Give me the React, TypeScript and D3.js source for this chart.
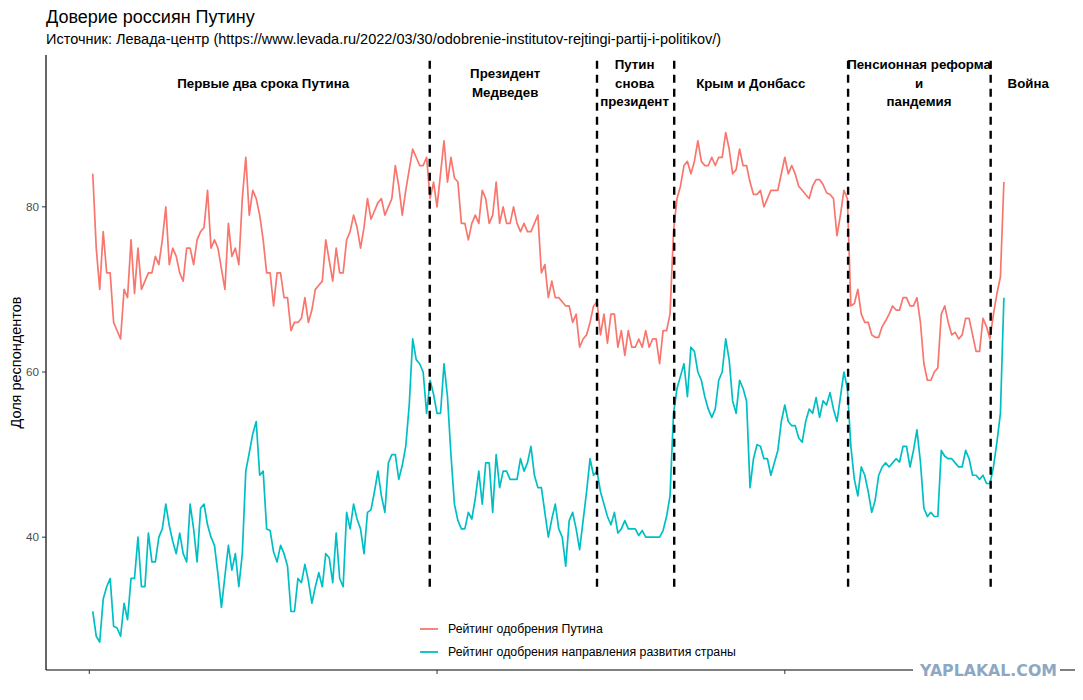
import * as d3 from 'd3';

// monthly observations, index 1..263
const putinRating = [
  84, 75, 70, 77, 72, 72, 66, 65, 64, 70, 69, 76, 69.5, 75, 70, 71, 72, 72, 74, 73,
  76, 80, 73, 75, 74, 72, 71, 75, 75, 73, 76, 77, 77.5, 82, 75, 76, 75, 72.5, 70, 78,
  74, 75, 73, 81, 86, 79, 82, 81, 79, 76, 72, 72, 68, 72, 72, 69, 69, 65, 66, 66,
  66.5, 69, 66, 67.5, 70, 70.5, 71, 76, 73.5, 71, 75, 72, 72, 76, 77, 79, 77.5, 75, 77.5, 81,
  78.5, 79.5, 80.5, 81, 79, 80, 81, 85, 82.5, 79, 82, 84.5, 87, 86, 85, 85, 86, 81, 83, 80,
  84, 88, 83, 86, 83.5, 83, 78, 78, 76, 78, 79, 78, 82, 81, 78, 79, 83, 78, 80, 78,
  78, 80, 78, 77, 78, 77, 77, 78, 79, 72, 73, 69, 71, 69, 69, 68.5, 68, 68, 66, 67,
  63, 64, 64.5, 66, 68, 68.5, 64.5, 67, 63.5, 67, 67, 63, 65, 62, 65, 63, 63, 64, 63, 65,
  63, 64, 64, 61, 65, 65, 67, 77, 81, 82.5, 85, 85.5, 84, 85.5, 88, 85.5, 85, 85, 86, 85,
  86, 86, 89, 87, 84, 84.5, 87, 85, 85, 83, 81.5, 81.5, 82, 80, 81, 82, 82, 82, 84, 86,
  84, 85, 84, 82.5, 82, 81.5, 81, 82.5, 83.3, 83.3, 82.7, 81.7, 81.5, 81, 76.5, 79, 82, 81, 68, 68.3,
  70, 67, 66, 66, 64.5, 64.2, 64.2, 65.5, 66.2, 67, 68, 67.5, 67.5, 69, 69, 68, 68, 69, 66, 61,
  59, 59, 60, 60.5, 67, 68, 66, 64.5, 64.8, 64, 64.5, 66.5, 66.5, 64.5, 62.5, 62.5, 66.5, 65.5, 64, 67,
  69.5, 71.5, 83,
];

const directionRating = [
  31, 28, 27.3, 32.5, 34, 35, 29.2, 29, 28, 32, 30, 35, 35, 40, 34, 34, 40.5, 37, 37, 40,
  41, 44, 41.4, 39.5, 38, 40.5, 38, 37, 44, 41, 37, 43.5, 44, 41.5, 40, 39, 35.5, 31.5, 35.3, 39,
  36, 38, 34, 38, 48, 50.2, 52.5, 54, 47.5, 48, 41, 40.8, 38.2, 37, 39, 38, 36.5, 31, 31, 35,
  34.5, 36.7, 34.7, 32, 34, 35.7, 34, 38, 37.5, 34.5, 40.5, 35, 34, 43, 41, 44, 42.2, 41, 38, 43,
  43.3, 45.5, 48, 45, 43, 49, 50, 50, 47, 48.7, 51, 56, 64, 61.5, 61, 60, 55, 59, 57.3, 55,
  55, 61, 57, 50, 44, 42, 41, 41, 43, 42.2, 44.7, 48, 44, 49, 49, 43, 50, 46, 48, 48,
  47, 47, 47, 49.5, 48, 49, 51, 47.5, 46, 46, 43, 40, 42.2, 44, 41, 40, 36.5, 42, 43, 41,
  38.5, 42, 45.5, 49.5, 47.5, 48, 45.5, 44, 42.5, 41.5, 43, 40.5, 41, 42, 41, 41, 41, 40.2, 40.8, 40,
  40, 40, 40, 40, 40.8, 42.5, 45, 55, 58, 59.5, 61, 57, 63, 62.5, 60, 59, 57, 55.5, 54.5, 55.5,
  59, 60, 64, 61.5, 56.5, 55, 59, 58, 56.5, 46, 49.5, 51.2, 51, 49.5, 49.5, 47.5, 49, 50.5, 54, 56,
  54, 53.5, 53.5, 52, 51.5, 54, 55.5, 55, 56.9, 54.5, 56.5, 56, 57.5, 55.5, 54, 57, 60, 58, 51, 47,
  45, 48.5, 47.5, 45.5, 43, 44.5, 47.5, 48.5, 49, 48.5, 49, 49.5, 49.1, 51, 51, 48.5, 50.5, 53, 49.1, 43.5,
  42.5, 43, 42.5, 42.5, 50.5, 49.8, 49.5, 49.5, 49, 48.5, 48.5, 50.5, 49.5, 47.5, 47.5, 47, 47.5, 46.5, 46.5, 48.5,
  51.5, 55, 69,
];

const seriesNames = ['Рейтинг одобрения Путина', 'Рейтинг одобрения направления развития страны'];
const seriesColors = ['#F8766D', '#00BFC4'];

// observation index of each period boundary
const eventIndex = [97.9, 146, 168.2, 218.2, 259.2];

const periodLabels = [
  'Первые два срока Путина',
  'Президент\nМедведев',
  'Путин\nснова\nпрезидент',
  'Крым и Донбасс',
  'Пенсионная реформа\nи\nпандемия',
  'Война',
];
const periodIndex = [50, 119.6, 156.8, 190.2, 238.6, 270];
const labelLevel = 95;
const eventFloor = 34;

const yTicks = [40, 60, 80];
const xTicks = [0, 100, 200];

const W = 1083;
const H = 700;
const margin = { left: 46, right: 8, top: 55, bottom: 30 };
const FONT = '"Liberation Sans", Arial, sans-serif';

function expand(lo: number, hi: number): [number, number] {
  const d = (hi - lo) * 0.05;
  return [lo - d, hi + d];
}

export default function App() {
  const allY = [...putinRating, ...directionRating, labelLevel];
  const x = d3
    .scaleLinear()
    .domain(expand(1, d3.max(periodIndex) as number))
    .range([margin.left, W - margin.right]);
  const y = d3
    .scaleLinear()
    .domain(expand(d3.min(allY) as number, d3.max(allY) as number))
    .range([H - margin.bottom, margin.top]);

  const line = d3
    .line<number>()
    .x((_, i) => x(i + 1))
    .y((d) => y(d));

  const series = [putinRating, directionRating];
  const left = margin.left;
  const bottom = H - margin.bottom;
  const lineGap = 18.5;

  return (
    <svg
      width={W}
      height={H}
      style={{ position: 'absolute', left: 0, top: 0, background: '#fff' }}
      fontFamily={FONT}
    >
      <rect width={W} height={H} fill="#fff" />
      <text x={left} y={23} fontSize={18} fill="#000">
        Доверие россиян Путину
      </text>
      <text x={left} y={44} fontSize={14.5} fill="#000">
        Источник: Левада-центр (https://www.levada.ru/2022/03/30/odobrenie-institutov-rejtingi-partij-i-politikov/)
      </text>

      {/* data lines */}
      {series.map((s, k) => (
        <path key={k} d={line(s) ?? ''} fill="none" stroke={seriesColors[k]} strokeWidth={1.7} strokeLinejoin="round" />
      ))}

      {/* period labels */}
      {periodLabels.map((lab, k) => {
        const parts = lab.split('\n');
        const y0 = y(labelLevel) - ((parts.length - 1) * lineGap) / 2;
        return (
          <text key={k} x={x(periodIndex[k])} textAnchor="middle" fontSize={13.3} fontWeight="bold" fill="#000">
            {parts.map((p, j) => (
              <tspan key={j} x={x(periodIndex[k])} y={y0 + j * lineGap} dy="0.35em">
                {p}
              </tspan>
            ))}
          </text>
        );
      })}

      {/* period boundaries */}
      {eventIndex.map((e, k) => (
        <line
          key={k}
          x1={x(e)}
          x2={x(e)}
          y1={y(eventFloor)}
          y2={margin.top}
          stroke="#000"
          strokeWidth={2.4}
          strokeDasharray="8,6"
        />
      ))}

      {/* axes */}
      <line x1={left} x2={left} y1={margin.top} y2={bottom} stroke="#000" strokeWidth={1.2} />
      <line x1={left} x2={W - margin.right} y1={bottom} y2={bottom} stroke="#000" strokeWidth={1.2} />
      {yTicks.map((t) => (
        <g key={t}>
          <line x1={left - 4} x2={left} y1={y(t)} y2={y(t)} stroke="#333" strokeWidth={1} />
          <text x={left - 7} y={y(t)} dy="0.35em" textAnchor="end" fontSize={11.7} fill="#4D4D4D">
            {t}
          </text>
        </g>
      ))}
      {xTicks.map((t) => (
        <line key={t} x1={x(t)} x2={x(t)} y1={bottom} y2={bottom + 4} stroke="#333" strokeWidth={1} />
      ))}
      <text
        transform={`translate(16,${(margin.top + bottom) / 2}) rotate(-90)`}
        textAnchor="middle"
        dy="0.35em"
        fontSize={14.5}
        fill="#000"
      >
        Доля респондентов
      </text>

      {/* legend */}
      {seriesNames.map((name, k) => (
        <g key={k} transform={`translate(420,${629 + k * 23})`}>
          <line x1={0} x2={18} y1={0} y2={0} stroke={seriesColors[k]} strokeWidth={1.8} />
          <text x={28} y={0} dy="0.35em" fontSize={12.3} fill="#000">
            {name}
          </text>
        </g>
      ))}

      {/* watermark */}
      <rect x={913} y={662} width={147} height={18} fill="#fff" />
      <text
        x={920}
        y={676}
        fontSize={16}
        fontWeight={900}
        fontFamily='"DejaVu Sans", sans-serif'
        fill="#8DA8C3"
        textLength={137}
        lengthAdjust="spacingAndGlyphs"
      >
        YAPLAKAL.COM
      </text>
    </svg>
  );
}
